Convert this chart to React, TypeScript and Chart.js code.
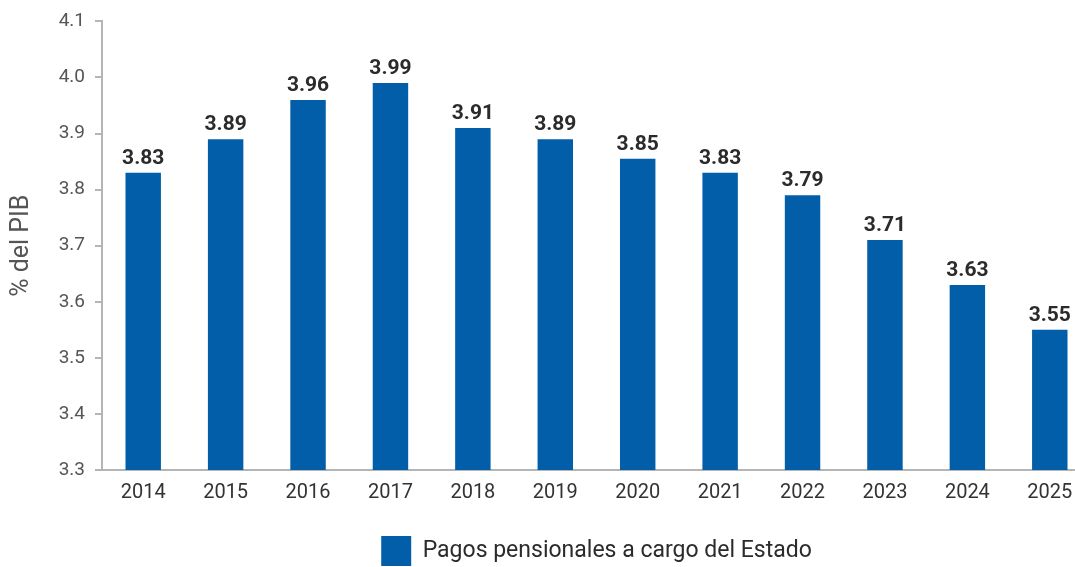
import React, { useEffect, useRef } from "react";
import { Chart, registerables } from "chart.js";

Chart.register(...registerables);

const years = ["2014", "2015", "2016", "2017", "2018", "2019", "2020", "2021", "2022", "2023", "2024", "2025"];
const pagos = [3.83, 3.89, 3.96, 3.99, 3.91, 3.89, 3.855, 3.83, 3.79, 3.71, 3.63, 3.55];
const pagosLabels = ["3.83", "3.89", "3.96", "3.99", "3.91", "3.89", "3.85", "3.83", "3.79", "3.71", "3.63", "3.55"];
const seriesName = "Pagos pensionales a cargo del Estado";
const yTitle = "% del PIB";

const FONT = "Roboto, 'DejaVu Sans', sans-serif";
const BLUE = "#025ea9";

const valueLabels = {
  id: "valueLabels",
  afterDatasetsDraw(chart: any) {
    const ctx = chart.ctx;
    const meta = chart.getDatasetMeta(0);
    ctx.save();
    ctx.font = `bold 21px ${FONT}`;
    ctx.fillStyle = "#2b2b2b";
    ctx.textAlign = "center";
    ctx.textBaseline = "alphabetic";
    meta.data.forEach((bar: any, i: number) => {
      ctx.fillText(pagosLabels[i], bar.x, bar.y - 9);
    });
    ctx.restore();
  },
};

export default function App() {
  const ref = useRef<HTMLCanvasElement>(null);
  useEffect(() => {
    if (!ref.current) return;
    const chart = new Chart(ref.current, {
      type: "bar",
      data: {
        labels: years,
        datasets: [
          {
            label: seriesName,
            data: pagos,
            backgroundColor: BLUE,
            borderWidth: 0,
            barPercentage: 0.43,
            categoryPercentage: 1,
          },
        ],
      },
      options: {
        animation: false,
        responsive: false,
        maintainAspectRatio: false,
        layout: { padding: { top: 18, right: 99, left: 0, bottom: 0 } },
        plugins: {
          tooltip: { enabled: false },
          legend: {
            position: "bottom",
            fullSize: false,
            labels: {
              boxWidth: 30,
              boxHeight: 30,
              padding: 4,
              color: "#2b2b2b",
              font: { family: FONT, size: 23 },
            },
          },
        },
        scales: {
          x: {
            afterFit(scale: any) {
              scale.height = 62;
            },
            grid: { display: false, drawTicks: false },
            border: { display: true, color: "#b5b5b5", width: 2 },
            ticks: { color: "#333", font: { family: FONT, size: 20 }, padding: 11 },
          },
          y: {
            min: 3.3,
            max: 4.1,
            afterFit(scale: any) {
              scale.width = 102;
            },
            grid: { display: true, drawOnChartArea: false, drawTicks: true, tickLength: 7, color: "#b5b5b5", lineWidth: 2 },
            border: { display: true, color: "#b5b5b5", width: 2 },
            ticks: {
              stepSize: 0.1,
              padding: 10,
              color: "#555",
              font: { family: FONT, size: 19 },
              callback: (v: any) => Number(v).toFixed(1),
            },
            title: {
              display: true,
              text: yTitle,
              color: "#555",
              font: { family: FONT, size: 25 },
              padding: { top: 7, bottom: 0 },
            },
          },
        },
      },
      plugins: [valueLabels],
    });
    return () => chart.destroy();
  }, []);
  return (
    <div style={{ position: "fixed", left: 0, top: 0, width: 1075, height: 567, overflow: "hidden", background: "#fff" }}>
      <canvas ref={ref} width={1190} height={576} style={{ width: 1190, height: 576, display: "block" }} />
    </div>
  );
}
